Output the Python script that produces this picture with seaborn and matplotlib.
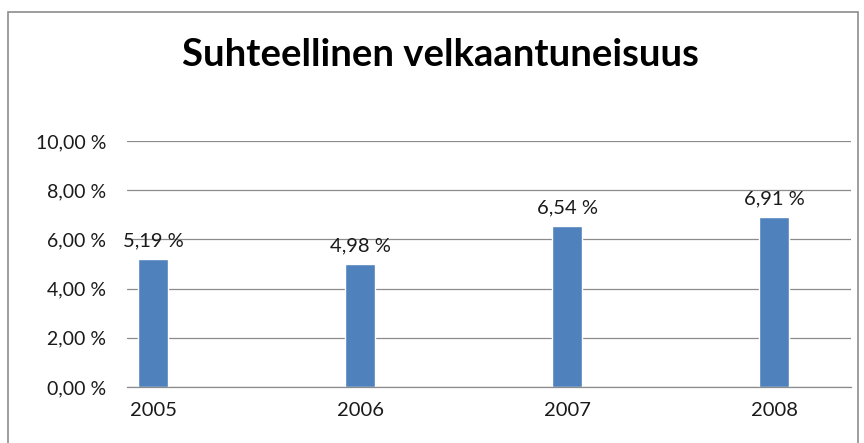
import matplotlib
matplotlib.use("Agg")
import matplotlib.pyplot as plt
import matplotlib.ticker as mticker
from matplotlib.patches import Rectangle
import seaborn as sns

years = ["2005", "2006", "2007", "2008"]
values = [5.19, 4.98, 6.54, 6.91]
title = "Suhteellinen velkaantuneisuus"

sns.set_style("white")
plt.rcParams["font.family"] = ["Lato", "DejaVu Sans"]

fig = plt.figure(figsize=(8.64, 4.43), dpi=100)
ax = fig.add_axes([127 / 864, 56 / 443, 724 / 864, 246 / 443])

sns.barplot(x=years, y=values, color="#4F81BD", saturation=1, width=0.145, ax=ax)

ax.set_ylim(0, 10)
ax.set_xlim(-0.126, 3.372)
ax.yaxis.set_major_locator(mticker.MultipleLocator(2))
ax.yaxis.set_major_formatter(mticker.FuncFormatter(lambda v, p: f"{v:.2f} %".replace(".", ",")))
ax.grid(axis="y", color="#8c8c8c", linewidth=0.9)
ax.set_axisbelow(True)
for s in ["left", "right", "top"]:
    ax.spines[s].set_visible(False)
ax.spines["bottom"].set_color("#8c8c8c")
ax.spines["bottom"].set_linewidth(0.9)
ax.tick_params(axis="y", length=0, pad=15, labelsize=14, labelcolor="#1a1a1a")
ax.tick_params(axis="x", length=0, pad=11, labelsize=14.5, labelcolor="#1a1a1a")
ax.set_xlabel("")
ax.set_ylabel("")

for i, v in enumerate(values):
    ax.annotate(f"{v:.2f} %".replace(".", ","), (i, v), xytext=(0, 7), textcoords="offset points",
                ha="center", va="bottom", fontsize=14.5, color="#1a1a1a")

fig.text(440 / 864, 1 - 55 / 443, title, ha="center", va="center", fontsize=27.5, fontweight="bold", color="black")

fig.patches.append(Rectangle((8 / 864, -0.05), 850 / 864, 1.05 - 12 / 443, transform=fig.transFigure,
                             fill=False, edgecolor="#8c8c8c", linewidth=1.2))

fig.savefig("out.png", dpi=100)
